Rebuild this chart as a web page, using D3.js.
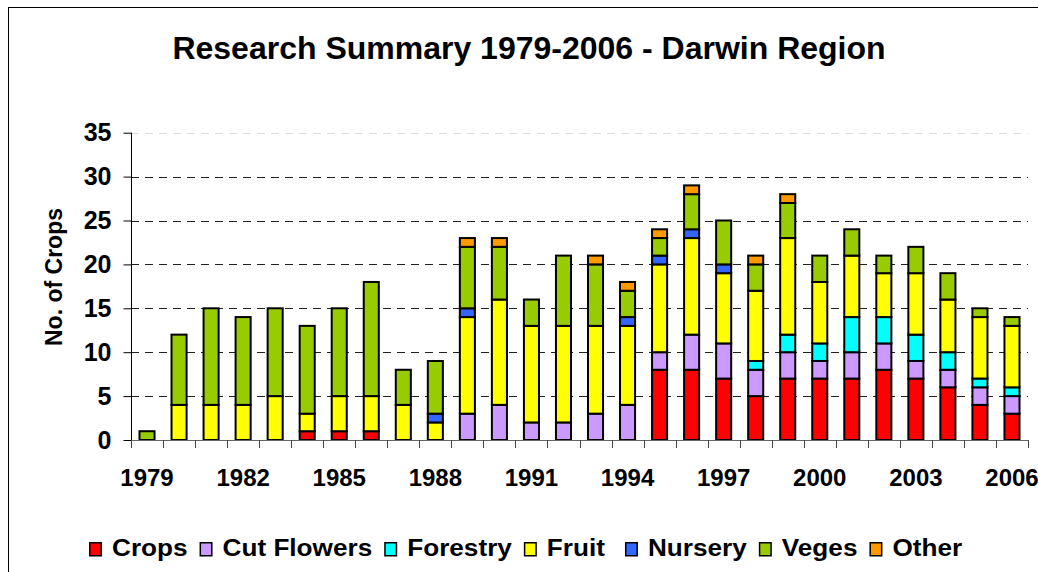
<!DOCTYPE html>
<html>
<head>
<meta charset="utf-8">
<script src="https://cdn.jsdelivr.net/npm/d3@7"></script>
<style>
  body { margin: 0; background: #fff; }
  text { font-family: "Liberation Sans", Arial, sans-serif; font-weight: bold; fill: #000; }
</style>
</head>
<body>
<div id="chart"></div>
<script>
// categories
const years = ["1979","1980","1981","1982","1983","1984","1985","1986","1987","1988",
               "1989","1990","1991","1992","1993","1994","1995","1996","1997","1998",
               "1999","2000","2001","2002","2003","2004","2005","2006"];
const labelYears = ["1979","1982","1985","1988","1991","1994","1997","2000","2003","2006"];
const yTicks = [0, 5, 10, 15, 20, 25, 30, 35];

// series values (bottom to top of each stack)
const crops      = [0,0,0,0,0,1,1,1,0,0,0,0,0,0,0,0,8,8,7,5,7,7,7,8,7,6,4,3];
const cutFlowers = [0,0,0,0,0,0,0,0,0,0,3,4,2,2,3,4,2,4,4,3,3,2,3,3,2,2,2,2];
const forestry   = [0,0,0,0,0,0,0,0,0,0,0,0,0,0,0,0,0,0,0,1,2,2,4,3,3,2,1,1];
const fruit      = [0,4,4,4,5,2,4,4,4,2,11,12,11,11,10,9,10,11,8,8,11,7,7,5,7,6,7,7];
const nursery    = [0,0,0,0,0,0,0,0,0,1,1,0,0,0,0,1,1,1,1,0,0,0,0,0,0,0,0,0];
const veges      = [1,8,11,10,10,10,10,13,4,6,7,6,3,8,7,3,2,4,5,3,4,3,3,2,3,3,1,1];
const other      = [0,0,0,0,0,0,0,0,0,0,1,1,0,0,1,1,1,1,0,1,1,0,0,0,0,0,0,0];

const seriesNames = ["Crops", "Cut Flowers", "Forestry", "Fruit", "Nursery", "Veges", "Other"];
const seriesData = [crops, cutFlowers, forestry, fruit, nursery, veges, other];
const colors = ["#FF0000", "#CC99FF", "#00FFFF", "#FFFF00", "#3366FF", "#99CC00", "#FF9900"];

const width = 1038, height = 572;
const plot = { left: 131, right: 1028, top: 132.7, bottom: 440 };

const svg = d3.select("#chart")
              .append("svg")
              .attr("width", width)
              .attr("height", height);

// outer frame (right and bottom edges fall off the picture)
svg.append("rect")
   .attr("x", 8.5).attr("y", 7.5)
   .attr("width", 1100).attr("height", 700)
   .attr("fill", "none")
   .attr("stroke", "#000")
   .attr("stroke-width", 1);

// title
svg.append("text")
   .attr("x", 529).attr("y", 59)
   .attr("text-anchor", "middle")
   .style("font-size", "32px")
   .text("Research Summary 1979-2006 - Darwin Region");

// table for the stack
const table = years.map((yr, i) => {
    const row = { year: yr };
    seriesNames.forEach((s, j) => { row[s] = seriesData[j][i]; });
    return row;
});
const stacked = d3.stack().keys(seriesNames)(table);

// scales
const x = d3.scaleBand()
            .domain(years)
            .range([plot.left, plot.right])
            .paddingInner(0.53)
            .paddingOuter(0.265);

const y = d3.scaleLinear()
            .domain([0, 35])
            .range([plot.bottom, plot.top]);

// gridlines
svg.append("g")
   .selectAll("line")
   .data(yTicks.filter(v => v > 0))
   .enter()
   .append("line")
   .attr("x1", plot.left).attr("x2", plot.right)
   .attr("y1", d => Math.round(y(d)) + 0.5)
   .attr("y2", d => Math.round(y(d)) + 0.5)
   .attr("stroke", d => d === 35 ? "#ddd" : "#222")
   .attr("stroke-width", 1)
   .attr("stroke-dasharray", "8,6");

// bars
const groups = svg.append("g")
                  .selectAll("g")
                  .data(stacked)
                  .enter()
                  .append("g")
                  .attr("fill", (d, i) => colors[i]);

groups.selectAll("rect")
      .data(d => d.filter(seg => seg[1] - seg[0] > 0))
      .enter()
      .append("rect")
      .attr("x", d => x(d.data.year))
      .attr("y", d => y(d[1]))
      .attr("width", x.bandwidth())
      .attr("height", d => y(d[0]) - y(d[1]))
      .attr("stroke", "#000")
      .attr("stroke-width", 2);

// y axis
const yAxis = svg.append("g")
                 .attr("transform", `translate(${plot.left + 0.5}, 0)`)
                 .call(d3.axisLeft(y).tickValues(yTicks).tickSize(8).tickPadding(12));
yAxis.select(".domain").attr("stroke", "#000").attr("d", `M0,${plot.top}V${plot.bottom}`);
yAxis.selectAll(".tick line").attr("stroke", "#000");
yAxis.selectAll("text")
     .style("font-size", "25px")
     .style("font-family", "'Liberation Sans', Arial, sans-serif")
     .style("font-weight", "bold");

// x axis line and boundary ticks
const xAxisG = svg.append("g");
xAxisG.append("line")
      .attr("x1", plot.left).attr("x2", plot.right)
      .attr("y1", plot.bottom + 0.5).attr("y2", plot.bottom + 0.5)
      .attr("stroke", "#666");
const boundaries = years.map(yr => x(yr) + x.bandwidth() / 2 - x.step() / 2)
                        .concat([plot.right]);
xAxisG.selectAll(".bt")
      .data(boundaries)
      .enter()
      .append("line")
      .attr("class", "bt")
      .attr("x1", d => Math.round(d) + 0.5).attr("x2", d => Math.round(d) + 0.5)
      .attr("y1", plot.bottom).attr("y2", plot.bottom + 8)
      .attr("stroke", "#444");

// x labels
const xAxis = svg.append("g")
                 .attr("transform", `translate(0, ${plot.bottom})`)
                 .call(d3.axisBottom(x).tickValues(labelYears).tickSize(0).tickPadding(29));
xAxis.select(".domain").remove();
xAxis.selectAll("text")
     .style("font-size", "24px")
     .style("font-family", "'Liberation Sans', Arial, sans-serif")
     .style("font-weight", "bold");

// y axis title
svg.append("text")
   .attr("transform", "translate(62, 277) rotate(-90)")
   .attr("text-anchor", "middle")
   .style("font-size", "23px")
   .text("No. of Crops");

// legend
const legend = svg.append("g");
const sx = 1.09;
let cursor = 0;
seriesNames.forEach((name, i) => {
    const item = legend.append("g").attr("transform", `translate(${cursor}, 0)`);
    item.append("rect")
        .attr("x", 0.75).attr("y", 0.75)
        .attr("width", 11.5).attr("height", 13)
        .attr("fill", colors[i])
        .attr("stroke", "#000")
        .attr("stroke-width", 1.5);
    const t = item.append("text")
        .attr("transform", `translate(23, 14) scale(${sx}, 1)`)
        .style("font-size", "24px")
        .text(name);
    cursor += 23 + t.node().getComputedTextLength() * sx + (name === "Fruit" ? 20 : 12);
});
legend.attr("transform", `translate(89, 542)`);
</script>
</body>
</html>
